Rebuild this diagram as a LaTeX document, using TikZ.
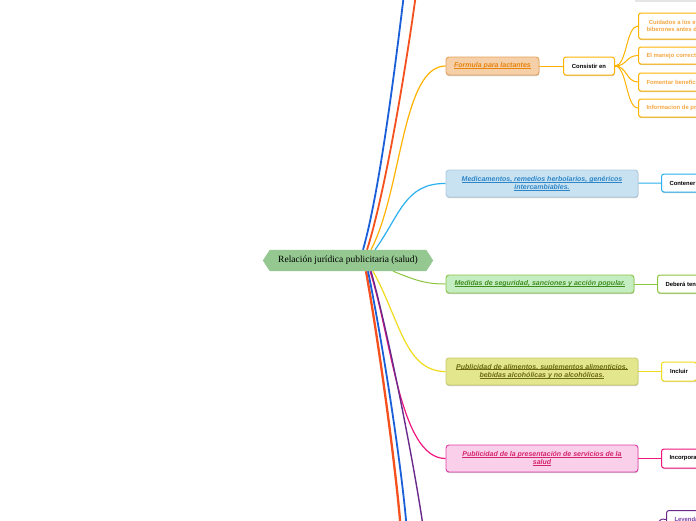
\documentclass[tikz,border=0pt]{standalone}
\usepackage{fontspec}
\setmainfont{Liberation Serif}
\setsansfont{Liberation Sans}
\usetikzlibrary{shadows}
\newcommand{\myul}[1]{\setbox0\hbox{#1}\rlap{\rule[-0.9pt]{\wd0}{0.45pt}}\box0}
\definecolor{cGreenC}{HTML}{94C890}
\definecolor{cBlueTop}{HTML}{1A5FD8}
\definecolor{cRed}{HTML}{F4511E}
\definecolor{cOrange}{HTML}{FFB300}
\definecolor{fFill}{HTML}{F5CFA8}
\definecolor{fDraw}{HTML}{E8A25A}
\definecolor{fText}{HTML}{E8830C}
\definecolor{chText}{HTML}{F5A742}
\definecolor{mLine}{HTML}{29B0EE}
\definecolor{mFill}{HTML}{C8E2F2}
\definecolor{mDraw}{HTML}{AFCBDF}
\definecolor{mText}{HTML}{2E86C8}
\definecolor{gLine}{HTML}{8CC63F}
\definecolor{gFill}{HTML}{C5EDC2}
\definecolor{gText}{HTML}{3E8E1E}
\definecolor{yLine}{HTML}{F0DC1E}
\definecolor{yFill}{HTML}{E3E68C}
\definecolor{yDraw}{HTML}{C9CC6A}
\definecolor{yText}{HTML}{6B6A12}
\definecolor{pLine}{HTML}{F0157F}
\definecolor{pFill}{HTML}{F9CFEA}
\definecolor{pDraw}{HTML}{E03CA8}
\definecolor{pText}{HTML}{D6246A}
\definecolor{vLine}{HTML}{6A2A8C}
\definecolor{vText}{HTML}{7A3FA8}
\pgfdeclarelayer{back}
\pgfdeclarelayer{bg}
\pgfdeclarelayer{mid}
\pgfsetlayers{back,bg,mid,main}
\begin{document}
\begin{tikzpicture}[x=1pt,y=-1pt,
  shadowed/.style={drop shadow={shadow xshift=0.3pt,shadow yshift=-1.2pt,fill=black,opacity=0.22}},
  mainbox/.style={rounded corners=3pt,line width=0.9pt,shadowed,align=center,
    font=\sffamily\bfseries\itshape\fontsize{7}{8.6}\selectfont,inner sep=0pt},
  smallbox/.style={rounded corners=2.5pt,line width=1pt,fill=white,shadowed,
    font=\sffamily\bfseries\fontsize{5.9}{7.4}\selectfont,inner xsep=8pt,inner ysep=0pt,
    minimum height=18pt,anchor=west,align=center},
  link/.style={line width=1pt},
  trunk/.style={line width=1.8pt}]
\useasboundingbox (0,0) rectangle (696,520);
\begin{pgfonlayer}{back}
\fill[white] (0,0) rectangle (696,520);
\fill[black!10] (635,0) rectangle (696,1.5);
\end{pgfonlayer}
\clip (0,0) rectangle (696,520);

% central node
\node[font=\fontsize{9.5}{11}\selectfont,minimum width=170pt,minimum height=21pt,inner sep=0pt] (c) at (348,260.5) {Relación jurídica publicitaria (salud)};
\begin{pgfonlayer}{mid}
\fill[cGreenC] (c.west) -- ([xshift=7pt]c.north west) -- ([xshift=-7pt]c.north east) -- (c.east) -- ([xshift=-7pt]c.south east) -- ([xshift=7pt]c.south west) -- cycle;
\end{pgfonlayer}

% branch nodes
\node[mainbox,fill=fFill,draw=fDraw,text=fText,minimum width=93pt,minimum height=18pt] (f) at (492.5,66) {\myul{Formula para lactantes}};
\node[mainbox,fill=mFill,draw=mDraw,text=mText,minimum width=192pt,minimum height=27pt] (m) at (542,183.5) {\myul{Medicamentos, remedios herbolarios, genéricos}\\\myul{intercambiables.}};
\node[mainbox,fill=gFill,draw=gLine,text=gText,minimum width=188pt,minimum height=18pt] (g) at (540,284) {\myul{Medidas de seguridad, sanciones y acción popular.}};
\node[mainbox,fill=yFill,draw=yDraw,text=yText,minimum width=192pt,minimum height=27pt] (y) at (542,371.5) {\myul{Publicidad de alimentos, suplementos alimenticios,}\\\myul{bebidas alcohólicas y no alcohólicas.}};
\node[mainbox,fill=pFill,draw=pDraw,text=pText,minimum width=192pt,minimum height=27pt] (p) at (542,458.5) {\myul{Publicidad de la presentación de servicios de la}\\\myul{salud}};

% second level
\node[smallbox,draw=cOrange,minimum width=51pt,inner xsep=0pt] (k) at (563,66) {Consistir en};
\node[smallbox,draw=mLine] (mc) at (661,183) {Contener\hspace*{30pt}};
\node[smallbox,draw=gLine] (gc) at (657,284) {Deberá tener\hspace*{30pt}};
\node[smallbox,draw=yLine,minimum width=35pt,minimum height=19pt,inner xsep=0pt] (yc) at (661,371.5) {Incluir};
\node[smallbox,draw=pLine,minimum height=19pt] (pc) at (661,458.5) {Incorporar\hspace*{30pt}};
\node[smallbox,draw=vLine,text=vText,anchor=north west] (vc) at (666,510) {Leyenda\hspace*{30pt}};
\coordinate (vin) at (655,528);

% children of Consistir en
\node[smallbox,draw=cOrange,text=chText,minimum height=26pt] (ca) at (638,26) {Cuidados a los envases y\\biberones antes de usarlos};
\node[smallbox,draw=cOrange,text=chText,minimum height=17pt] (cb) at (638,55.5) {El manejo correcto de los biberones};
\node[smallbox,draw=cOrange,text=chText] (cc) at (638,82) {Fomentar beneficios de la leche materna};
\node[smallbox,draw=cOrange,text=chText] (cd) at (638,108) {Informacion de preparación};

% free ends of trunks
\coordinate (t1) at (404,-6);
\coordinate (t2) at (416,-6);
\coordinate (b1) at (400.5,526);
\coordinate (b2) at (406.5,526);
\coordinate (b3) at (423,526);

\begin{pgfonlayer}{bg}
\clip (0,0) rectangle (696,520);
\draw[trunk,cBlueTop] ([xshift=15pt]c.north) .. controls (380,190) and (396,60) .. (t1);
\draw[trunk,cRed] ([xshift=19pt]c.north) .. controls (386,190) and (407,60) .. (t2);
\draw[link,cOrange,line width=1.2pt] ([xshift=23pt]c.north) .. controls (402,190) and (402,66) .. (f.west);
\draw[link,mLine,line width=1.2pt] ([xshift=27pt]c.north) .. controls (400,215) and (405,183) .. (m.west);
\draw[link,gLine] ([xshift=45pt]c.south) .. controls (415,280) and (425,284) .. (g.west);
\draw[link,yLine,line width=1.2pt] ([xshift=25pt]c.south) .. controls (400,320) and (405,371.5) .. (y.west);
\draw[link,pLine,line width=1.2pt] ([xshift=22pt]c.south) .. controls (392,340) and (400,458.5) .. (p.west);
\draw[trunk,cRed,line width=2.3pt] ([xshift=18pt]c.south) .. controls (380,350) and (396,470) .. (b1);
\draw[trunk,cBlueTop] ([xshift=20pt]c.south) .. controls (384,350) and (402,470) .. (b2);
\draw[trunk,vLine,line width=1.4pt] ([xshift=23pt]c.south) .. controls (390,340) and (415,470) .. (b3);

\draw[link,cOrange] (f) -- (k);
\draw[link,mLine] (m) -- (mc);
\draw[link,gLine] (g) -- (gc);
\draw[link,yLine] (y) -- (yc);
\draw[link,pLine] (p) -- (pc);
\draw[link,vLine] (vin) .. controls (660,520) and (660,518) .. (vc.west);
\foreach \ch in {ca,cb,cc,cd}
  \draw[link,cOrange] (k.east) .. controls +(12,0) and +(-12,0) .. (\ch.west);
\end{pgfonlayer}
\end{tikzpicture}
\end{document}
